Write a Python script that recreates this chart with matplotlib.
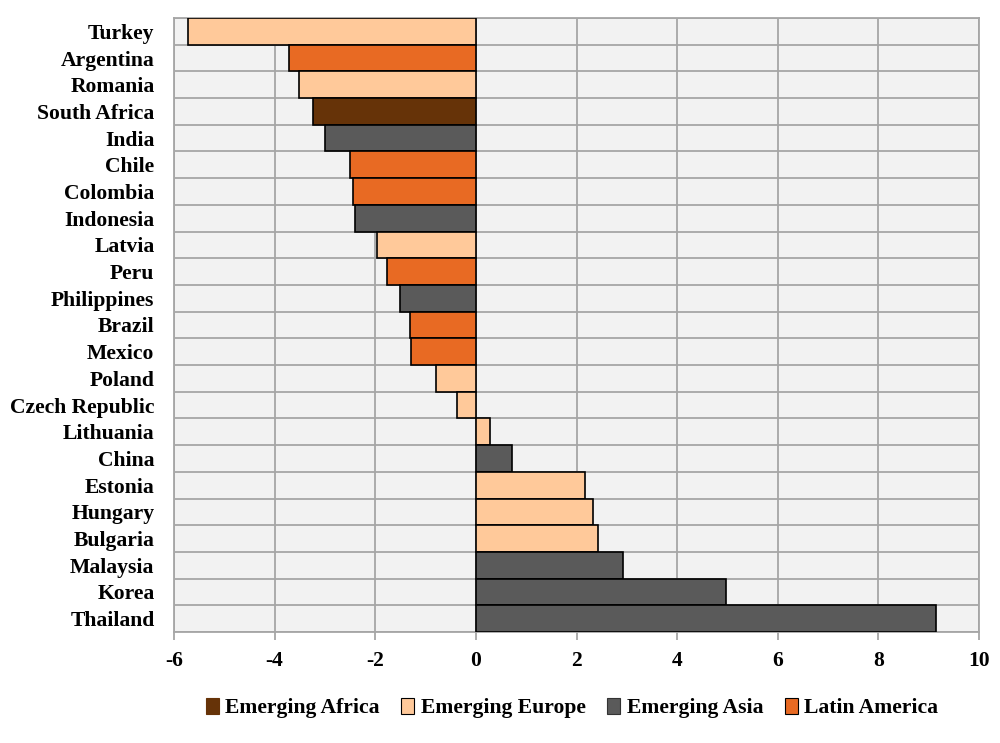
import matplotlib
matplotlib.use("Agg")
import matplotlib.pyplot as plt
from matplotlib.patches import Patch
import numpy as np

# Datos (de arriba hacia abajo)
paises = ['Turkey', 'Argentina', 'Romania', 'South Africa', 'India', 'Chile',
          'Colombia', 'Indonesia', 'Latvia', 'Peru', 'Philippines', 'Brazil',
          'Mexico', 'Poland', 'Czech Republic', 'Lithuania', 'China', 'Estonia',
          'Hungary', 'Bulgaria', 'Malaysia', 'Korea', 'Thailand']
valores = [-5.73, -3.72, -3.52, -3.24, -3.0, -2.5, -2.45, -2.4, -1.97, -1.77,
           -1.51, -1.31, -1.29, -0.8, -0.38, 0.28, 0.72, 2.17, 2.33, 2.43,
           2.92, 4.97, 9.15]
regiones = ['Europe', 'Latin', 'Europe', 'Africa', 'Asia', 'Latin', 'Latin',
            'Asia', 'Europe', 'Latin', 'Asia', 'Latin', 'Latin', 'Europe',
            'Europe', 'Europe', 'Asia', 'Europe', 'Europe', 'Europe', 'Asia',
            'Asia', 'Asia']

grupos = ['Africa', 'Europe', 'Asia', 'Latin']
nombres_grupos = ['Emerging Africa', 'Emerging Europe', 'Emerging Asia', 'Latin America']
colores = {'Africa': '#663308', 'Europe': '#FFC99A', 'Asia': '#5A5A5A', 'Latin': '#E86A23'}
bordes_leyenda = {'Africa': '#663308', 'Europe': 'black', 'Asia': '#333333', 'Latin': 'black'}

plt.rcParams['font.family'] = ['Liberation Serif', 'DejaVu Serif']
plt.rcParams['font.weight'] = 'bold'
plt.rcParams['axes.unicode_minus'] = False

fig = plt.figure(figsize=(10, 7.43), dpi=100)
ax = fig.add_axes([0.174, 0.1494, 0.805, 0.8264])

n = len(paises)
pos = np.arange(n)
ax.barh(pos, valores, height=1.0, color=[colores[r] for r in regiones],
        edgecolor='black', linewidth=1.2, zorder=3)

ax.set_ylim(n - 0.5, -0.5)
ax.set_xlim(-6, 10)
ax.set_xticks(np.arange(-6, 11, 2))
ax.set_yticks(pos)
ax.set_yticklabels(paises, fontsize=15.6, fontweight='bold')
ax.set_yticks(np.arange(-0.5, n, 1), minor=True)

ax.set_facecolor('#F2F2F2')
ax.grid(True, axis='x', which='major', color='#A6A6A6', linewidth=1.3, zorder=0)
ax.grid(True, axis='y', which='minor', color='#A6A6A6', linewidth=1.3, zorder=0)
ax.tick_params(axis='y', which='both', length=0, pad=14)
ax.tick_params(axis='x', length=6, color='#A6A6A6', width=1.3, labelsize=15.5, pad=8)
for lbl in ax.get_xticklabels():
    lbl.set_fontweight('bold')
for sp in ax.spines.values():
    sp.set_color('#A6A6A6')
    sp.set_linewidth(1.3)

handles = [Patch(facecolor=colores[g], edgecolor=bordes_leyenda[g], linewidth=0.8) for g in grupos]
fig.legend(handles, nombres_grupos, loc='center', bbox_to_anchor=(0.572, 0.047),
           ncol=4, frameon=False, handlelength=0.6, handleheight=0.8,
           handletextpad=0.3, columnspacing=1.0,
           prop={'size': 15.6, 'weight': 'bold'})

fig.savefig('out.png', dpi=100)
